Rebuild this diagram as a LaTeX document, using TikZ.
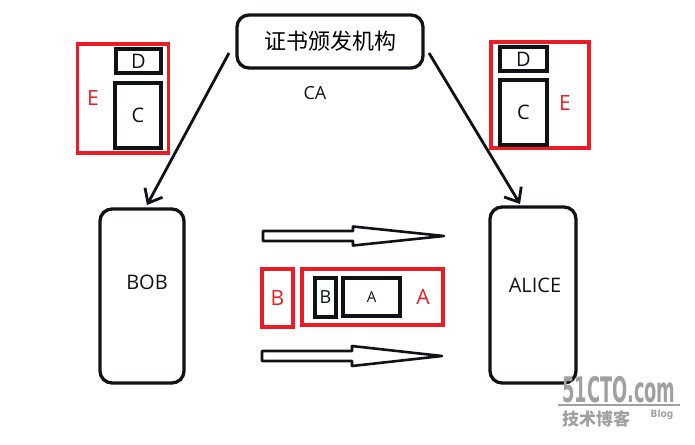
\documentclass[tikz,border=0pt]{standalone}
\usepackage{fontspec}
\setmainfont{Open Sans}
\newfontfamily\cjk{Noto Sans CJK SC}
\newfontfamily\wmfont{DejaVu Sans Condensed Bold}
\usetikzlibrary{arrows.meta,calc}
\definecolor{ink}{RGB}{15,18,22}
\definecolor{myred}{RGB}{237,28,36}
\definecolor{wmgray}{RGB}{160,160,160}
\begin{document}
\begin{tikzpicture}[x=1pt,y=-1pt,
  blk/.style={draw=ink, line width=3.3pt, inner sep=0pt},
  redbox/.style={draw=myred, line width=3.3pt, inner sep=0pt},
  lbl/.style={text=ink, font=\fontsize{20}{20}\selectfont, inner sep=0pt},
  redlbl/.style={text=myred, font=\fontsize{21}{21}\selectfont, inner sep=0pt},
  cert/.style={draw=ink, line width=2.8pt, -{Straight Barb[length=12pt,width=20pt,line width=2.8pt]}},
  blockarrow/.style={draw=ink, line width=2.6pt, line join=round}
]
\useasboundingbox (0,0) rectangle (695,444);

% CA
\node[blk, rounded corners=12pt, minimum width=186pt, minimum height=53pt,
      font=\cjk\fontsize{22}{22}\selectfont] (ca) at (330,41.5) {证书颁发机构};
\node[lbl, font=\fontsize{18}{18}\selectfont] (calbl) at (315,93) {CA};

% left certificate
\node[redbox, minimum width=91pt, minimum height=109pt] (eL) at (123,98.5) {};
\node[blk, minimum width=45pt, minimum height=24pt] (dL) at (138.5,61) {};
\node[lbl] at (dL.center) {D};
\node[blk, minimum width=46pt, minimum height=65pt] (cL) at (138,115.5) {};
\node[lbl] at (cL.center) {C};
\node[redlbl] (eLl) at (93,98) {E};

% right certificate
\node[redbox, minimum width=98pt, minimum height=106pt] (eR) at (540,95) {};
\node[blk, minimum width=47pt, minimum height=24pt] (dR) at (523.5,59) {};
\node[lbl] at (dR.center) {D};
\node[blk, minimum width=47pt, minimum height=65pt] (cR) at (523.5,112.5) {};
\node[lbl] at (cR.center) {C};
\node[redlbl] (eRl) at (565,103) {E};

% parties
\node[blk, rounded corners=12pt, minimum width=84pt, minimum height=174pt] (bob) at (142,296) {};
\node[lbl] (bobl) at (147,282) {BOB};
\node[blk, rounded corners=12pt, minimum width=86pt, minimum height=176pt] (alice) at (533,295) {};
\node[lbl] (alicel) at (535,285) {ALICE};

% arrows from CA
\coordinate (caL) at (229,53);
\coordinate (caR) at (429,53);
\coordinate (bobT) at (147,205);
\coordinate (aliceT) at (520,204);
\draw[cert] (caL) -- (bobT);
\draw[cert] (caR) -- (aliceT);

% block arrows
\draw[blockarrow] (263,231) -- (353,231) -- (353,226.5) -- (444,236) -- (353,245.5) -- (353,241) -- (263,241) -- cycle;
\draw[blockarrow] (262,351) -- (352,351) -- (352,346) -- (442,356) -- (352,366) -- (352,361) -- (262,361) -- cycle;

% message
\node[redbox, minimum width=31pt, minimum height=58pt] (bR) at (277.5,298) {};
\node[redlbl] at (bR.center) {B};
\node[redbox, minimum width=141pt, minimum height=56pt] (aR) at (372.5,297) {};
\node[blk, minimum width=21pt, minimum height=39pt] (bin) at (325.5,297.5) {};
\node[lbl, font=\fontsize{18}{18}\selectfont] at (bin.center) {B};
\node[blk, minimum width=57pt, minimum height=38pt] (ain) at (371.5,297) {};
\node[lbl, font=\fontsize{15}{15}\selectfont] at (ain.center) {A};
\node[redlbl] (aRl) at (423,297) {A};

% watermark
\node[text=wmgray, font=\wmfont\fontsize{32}{32}\selectfont, xscale=0.62, yscale=1.1, inner sep=0pt] (wm) at (619,390) {51CTO.com};
\draw[wmgray, line width=1.5pt] (558,405) -- (680,405);
\node[text=wmgray, font=\cjk\bfseries\fontsize{17}{17}\selectfont, inner sep=0pt] (wm2) at (596,419) {技术博客};
\node[text=wmgray, font=\wmfont\fontsize{10}{10}\selectfont, inner sep=0pt] (wm3) at (662,415) {Blog};
\end{tikzpicture}
\end{document}
